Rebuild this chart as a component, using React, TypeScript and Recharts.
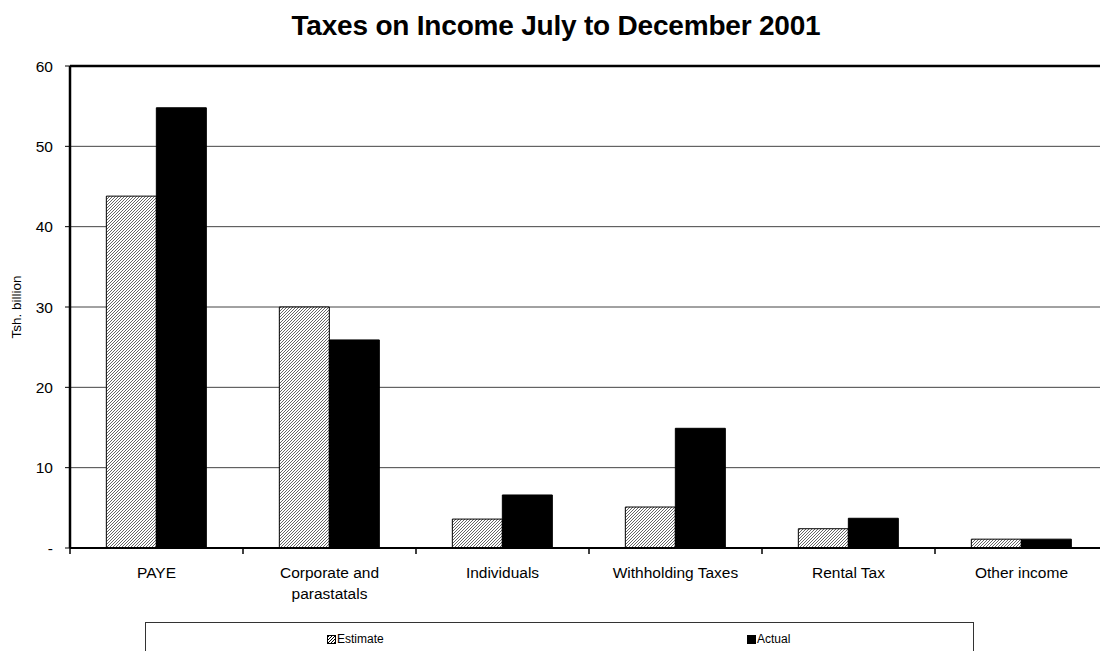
import React from "react";
import { BarChart, Bar, XAxis, YAxis, CartesianGrid, ReferenceLine } from "recharts";

const categories = ["PAYE", "Corporate and parastatals", "Individuals", "Withholding Taxes", "Rental Tax", "Other income"];
const estimate = [43.8, 30.0, 3.6, 5.1, 2.4, 1.1];
const actual = [54.8, 25.9, 6.6, 14.9, 3.7, 1.1];
const yTicks = [0, 10, 20, 30, 40, 50, 60];

const data = categories.map((name, i) => ({ name, estimate: estimate[i], actual: actual[i] }));

const FONT = "Arial, 'Liberation Sans', sans-serif";

function wrap(text: string, max = 18) {
  const words = text.split(" ");
  const lines: string[] = [];
  let cur = "";
  words.forEach((w) => {
    const next = cur ? cur + " " + w : w;
    if (next.length > max && cur) {
      lines.push(cur);
      cur = w;
    } else cur = next;
  });
  if (cur) lines.push(cur);
  return lines;
}

function CategoryTick(props: any) {
  const { x, y, payload } = props;
  const left = x - (payload.offset || 0);
  const lines = wrap(String(payload.value));
  return (
    <g>
      <line x1={left} x2={left} y1={y} y2={y + 6} stroke="#000" strokeWidth={1.5} />
      <text x={x} y={y + 30} textAnchor="middle" fontSize={15.5} fontFamily={FONT} fill="#000">
        {lines.map((l, i) => (
          <tspan key={i} x={x} dy={i === 0 ? 0 : 21}>
            {l}
          </tspan>
        ))}
      </text>
    </g>
  );
}

function Hatch({ id, color }: { id: string; color: string }) {
  return (
    <pattern id={id} patternUnits="userSpaceOnUse" width={3} height={3}>
      <rect width={3} height={3} fill="#fff" />
      <path d="M-1,1 l2,-2 M0,3 l3,-3 M2,4 l2,-2" stroke={color} strokeWidth={1} />
    </pattern>
  );
}

function LegendBox() {
  const item = (label: string, fill: string, left: number) => (
    <div style={{ position: "absolute", left, top: 10, display: "flex", alignItems: "center" }}>
      <svg width={9} height={9} style={{ marginRight: 1 }}>
        <rect x={0.5} y={0.5} width={8} height={8} fill={fill} stroke="#000" />
      </svg>
      <span style={{ fontFamily: "'Liberation Sans Narrow', " + FONT, fontSize: 12, lineHeight: "12px" }}>{label}</span>
    </div>
  );
  return (
    <div
      style={{
        position: "absolute",
        left: 145,
        top: 622,
        width: 829,
        height: 40,
        border: "1px solid #333",
        boxSizing: "border-box",
        background: "#fff",
      }}
    >
      <svg width={0} height={0} style={{ position: "absolute" }}>
        <defs>
          <Hatch id="hatchLegend" color="#000" />
        </defs>
      </svg>
      {item("Estimate", "url(#hatchLegend)", 181)}
      {item("Actual", "#000", 601)}
    </div>
  );
}

export default function App() {
  return (
    <div style={{ position: "absolute", left: 0, top: 0, width: 1100, height: 651, overflow: "hidden", background: "#fff" }}>
      <div
        style={{
          position: "absolute",
          left: 0,
          top: 10,
          width: 1112,
          textAlign: "center",
          fontFamily: FONT,
          fontWeight: "bold",
          fontSize: 28,
          letterSpacing: -0.2,
        }}
      >
        Taxes on Income July to December 2001
      </div>
      <BarChart
        width={1108}
        height={651}
        data={data}
        margin={{ top: 66, right: 0, left: 10, bottom: 33 }}
        barGap={0}
        barCategoryGap="21%"
      >
        <defs>
          <Hatch id="hatch" color="#666" />
        </defs>
        <CartesianGrid vertical={false} stroke="#444" strokeWidth={1} />
        <XAxis
          dataKey="name"
          height={70}
          tickLine={false}
          tickSize={0}
          tickMargin={0}
          tick={<CategoryTick />}
          axisLine={{ stroke: "#000", strokeWidth: 2 }}
          interval={0}
        />
        <YAxis
          domain={[0, 60]}
          ticks={yTicks}
          width={60}
          tickSize={5}
          tickMargin={12}
          tickLine={{ stroke: "#000" }}
          axisLine={{ stroke: "#000", strokeWidth: 2.5 }}
          tick={{ fontSize: 15.5, fontFamily: FONT, fill: "#000" }}
          tickFormatter={(v: number) => (v === 0 ? "-" : String(v))}
          label={{
            value: "Tsh. billion",
            angle: -90,
            position: "insideLeft",
            offset: 6,
            style: { fontSize: 13.5, fontFamily: FONT, fill: "#000", textAnchor: "middle" },
          }}
        />
        <ReferenceLine y={60} stroke="#000" strokeWidth={2.5} />
        <Bar dataKey="estimate" name="Estimate" fill="url(#hatch)" stroke="#000" strokeWidth={1} isAnimationActive={false} />
        <Bar dataKey="actual" name="Actual" fill="#000" stroke="#000" strokeWidth={1} isAnimationActive={false} />
      </BarChart>
      <LegendBox />
    </div>
  );
}
